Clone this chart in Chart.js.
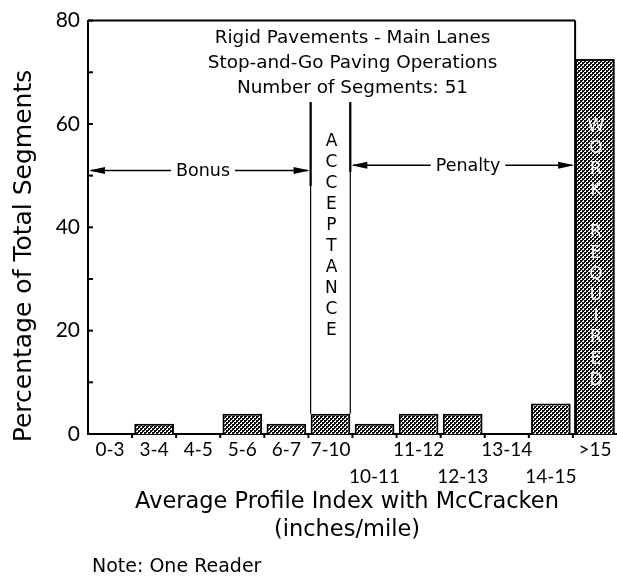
<!DOCTYPE html>
<html>
<head>
<meta charset="utf-8">
<script src="https://cdn.jsdelivr.net/npm/chart.js@4/dist/chart.umd.min.js"></script>
<style>
  html, body { margin: 0; padding: 0; background: #fff; }
  #wrap { width: 617px; height: 581px; }
</style>
</head>
<body>
<div id="wrap"><canvas id="c" width="617" height="581"></canvas></div>
<script>
// Distribution of segments by average profile index (51 segments)
const categories = ["0-3", "3-4", "4-5", "5-6", "6-7", "7-10", "10-11", "11-12", "12-13", "13-14", "14-15", ">15"];
const segmentCounts = [0, 1, 0, 2, 1, 2, 1, 2, 2, 0, 3, 37];
const totalSegments = 51;
const percentValues = [0, 1.96, 0, 3.92, 1.96, 3.92, 1.96, 3.92, 3.92, 0, 5.88, 72.55];
const labelRow = [0, 0, 0, 0, 0, 0, 1, 0, 1, 0, 1, 0];   // 1 = label on second line
const yTicks = [0, 20, 40, 60, 80];
const yMinorTicks = [10, 30, 50, 70];
const titleLines = ["Rigid Pavements - Main Lanes", "Stop-and-Go Paving Operations", "Number of Segments: 51"];
const yTitle = "Percentage of Total Segments";
const xTitleLines = ["Average Profile Index with McCracken", "(inches/mile)"];
const noteText = "Note: One Reader";
const acceptanceText = "ACCEPTANCE";
const workText = "WORK REQUIRED";
const bonusText = "Bonus";
const penaltyText = "Penalty";
const bonusLevel = 51;
const penaltyLevel = 52;

const TICK_FONT = "Lato, 'DejaVu Sans', sans-serif";
const FONT = "'DejaVu Sans', sans-serif";

// dotted fill used for the bars
function makePattern() {
  const p = document.createElement('canvas');
  p.width = 4; p.height = 4;
  const g = p.getContext('2d');
  g.fillStyle = '#ffffff'; g.fillRect(0, 0, 4, 4);
  g.fillStyle = '#111111';
  g.fillRect(0, 0, 2, 2); g.fillRect(2, 2, 2, 2);
  g.fillRect(2, 0, 1, 1); g.fillRect(0, 2, 1, 1);
  return g.createPattern(p, 'repeat');
}

const tickLabels = categories.map((c, i) => labelRow[i] ? ["", c] : [c]);

const decorations = {
  id: 'decorations',
  afterDatasetsDraw(chart) {
    const ctx = chart.ctx;
    const area = chart.chartArea;
    const xs = chart.scales.x, ys = chart.scales.y;
    const bars = chart.getDatasetMeta(0).data;
    ctx.save();
    ctx.strokeStyle = '#000'; ctx.fillStyle = '#000';

    const last = bars[bars.length - 1];
    const lastLeft = last.x - last.width / 2;

    // top frame line
    ctx.lineWidth = 2;
    ctx.beginPath(); ctx.moveTo(area.left, area.top); ctx.lineTo(lastLeft, area.top); ctx.stroke();
    // boundary line before the last class
    ctx.beginPath(); ctx.moveTo(lastLeft, area.top); ctx.lineTo(lastLeft, area.bottom); ctx.stroke();

    // inward ticks on the y axis
    ctx.lineWidth = 2;
    yTicks.concat(yMinorTicks).forEach(v => {
      const y = ys.getPixelForValue(v);
      ctx.beginPath(); ctx.moveTo(area.left, y); ctx.lineTo(area.left + 5, y); ctx.stroke();
    });

    // ticks at class boundaries on the x axis
    for (let i = 1; i < categories.length; i++) {
      const x = (xs.getPixelForValue(i - 1) + xs.getPixelForValue(i)) / 2;
      ctx.beginPath(); ctx.moveTo(x, area.bottom); ctx.lineTo(x, area.bottom + 4); ctx.stroke();
    }

    // acceptance band edges
    const acc = bars[5];
    const accL = acc.x - acc.width / 2, accR = acc.x + acc.width / 2;
    const topY = 102;
    ctx.lineWidth = 1.2;
    [accL, accR].forEach(x => {
      ctx.beginPath(); ctx.moveTo(x, topY); ctx.lineTo(x, acc.y); ctx.stroke();
    });
    ctx.lineWidth = 2.2;
    ctx.beginPath(); ctx.moveTo(accL, topY); ctx.lineTo(accL, 186); ctx.stroke();
    ctx.beginPath(); ctx.moveTo(accR, topY); ctx.lineTo(accR, 172); ctx.stroke();

    // arrows
    function arrowHead(x, y, dir) {
      ctx.beginPath();
      ctx.moveTo(x, y);
      ctx.lineTo(x - dir * 16, y - 3.5);
      ctx.lineTo(x - dir * 16, y + 3.5);
      ctx.closePath(); ctx.fill();
    }
    function arrowWithLabel(x1, x2, y, text, cx) {
      ctx.font = "17.5px " + FONT;
      ctx.textAlign = 'center'; ctx.textBaseline = 'middle';
      const w = ctx.measureText(text).width;
      ctx.lineWidth = 1.5;
      ctx.beginPath();
      ctx.moveTo(x1 + 2, y); ctx.lineTo(cx - w / 2 - 5, y);
      ctx.moveTo(cx + w / 2 + 5, y); ctx.lineTo(x2 - 2, y);
      ctx.stroke();
      arrowHead(x1, y, -1); arrowHead(x2, y, 1);
      ctx.fillText(text, cx, y + 1);
    }
    arrowWithLabel(area.left + 1, accL - 1, ys.getPixelForValue(bonusLevel), bonusText, 203);
    arrowWithLabel(accR + 1, lastLeft - 1, ys.getPixelForValue(penaltyLevel), penaltyText, 468);

    // stacked vertical words
    ctx.font = "17px " + FONT;
    ctx.textAlign = 'center'; ctx.textBaseline = 'middle';
    acceptanceText.split('').forEach((ch, i) => {
      ctx.fillText(ch, acc.x + 1, 142 + i * 20.9);
    });
    ctx.fillStyle = '#fff';
    workText.split('').forEach((ch, i) => {
      if (ch !== ' ') ctx.fillText(ch, last.x + 1, 127 + i * 21.1);
    });

    // title block
    ctx.fillStyle = '#000';
    ctx.font = "18.4px " + FONT;
    const cx = (area.left + area.right) / 2;
    titleLines.forEach((t, i) => ctx.fillText(t, cx, 38 + i * 25));

    // axis titles
    ctx.font = "22.5px " + FONT;
    ctx.fillText(xTitleLines[0], 347, 502);
    ctx.fillText(xTitleLines[1], 347, 530);
    ctx.save();
    ctx.translate(24, 256);
    ctx.rotate(-Math.PI / 2);
    ctx.font = "25px " + FONT;
    ctx.fillText(yTitle, 0, 0);
    ctx.restore();

    ctx.font = "19px " + FONT;
    ctx.textAlign = 'left';
    ctx.fillText(noteText, 92, 567);
    ctx.restore();
  }
};

new Chart(document.getElementById('c'), {
  type: 'bar',
  data: {
    labels: tickLabels,
    datasets: [{
      data: percentValues,
      backgroundColor: makePattern(),
      borderColor: '#000',
      borderWidth: 2,
      borderSkipped: 'bottom',
      barPercentage: 0.9,
      categoryPercentage: 1.0
    }]
  },
  options: {
    responsive: false,
    animation: false,
    devicePixelRatio: 1,
    layout: { padding: { top: 16, right: 0, left: 0, bottom: 0 } },
    plugins: { legend: { display: false }, tooltip: { enabled: false }, title: { display: false } },
    scales: {
      x: {
        grid: { display: false, drawTicks: false },
        border: { display: true, color: '#000', width: 2 },
        ticks: {
          color: '#000', font: { family: TICK_FONT, size: 19, lineHeight: 1.45 },
          padding: 2, maxRotation: 0, autoSkip: false
        },
        afterFit(s) { s.height = 147; }
      },
      y: {
        min: 0, max: 80,
        grid: { display: false, drawTicks: false },
        border: { display: true, color: '#000', width: 2 },
        ticks: {
          stepSize: 20, color: '#000', padding: 8,
          font: { family: TICK_FONT, size: 21 }
        },
        afterFit(s) { s.width = 88; }
      }
    }
  },
  plugins: [decorations]
});
</script>
</body>
</html>
